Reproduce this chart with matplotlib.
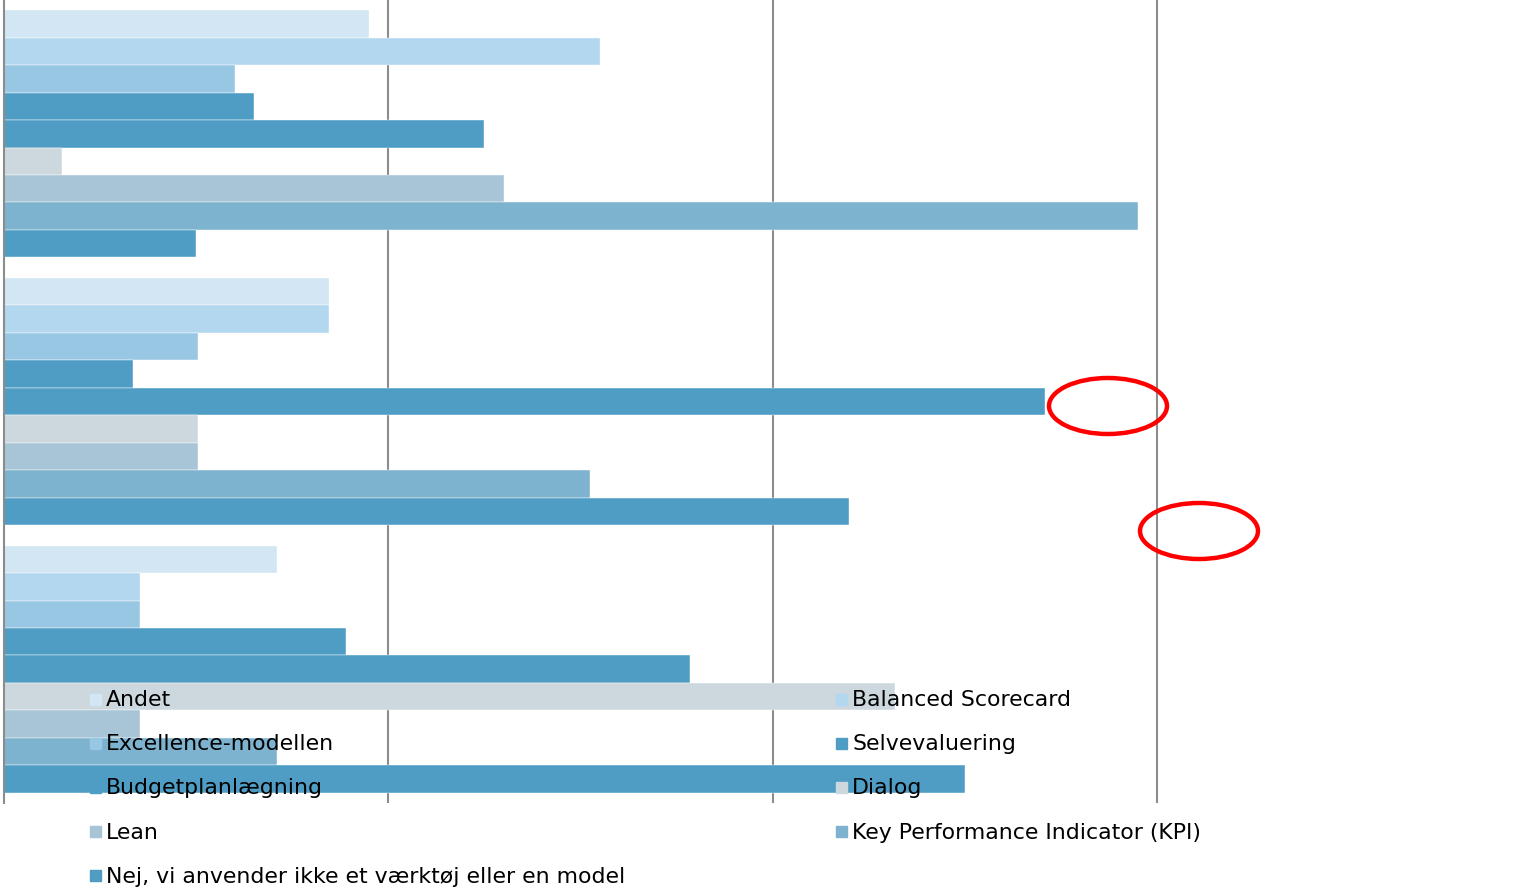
import matplotlib.pyplot as plt
from matplotlib.patches import Ellipse, Rectangle
import numpy as np

# ---------------------------
# DATA
# ---------------------------

groups = ["Gruppe 1", "Gruppe 2", "Gruppe 3"]

series = [
    "Andet",
    "Balanced Scorecard",
    "Excellence-modellen",
    "Selvevaluering",
    "Budgetplanlægning",
    "Dialog",
    "Lean",
    "Key Performance Indicator (KPI)",
    "Nej, vi anvender ikke et værktøj eller en model",
]

values = [
    [9.5, 8.45, 7.1],    # Andet
    [15.5, 8.45, 3.55],  # Balanced Scorecard
    [6.0, 5.05, 3.55],   # Excellence-modellen
    [6.5, 3.35, 8.9],    # Selvevaluering
    [12.5, 27.1, 17.85], # Budgetplanlægning
    [1.5, 5.05, 23.2],   # Dialog
    [13.0, 5.05, 3.55],  # Lean
    [29.5, 15.25, 7.1],  # KPI
    [5.0, 22.0, 25.0],   # Nej
]

colors = ["#d2e7f3", "#b2d7ee", "#98c7e4", "#4f9dc4", "#4f9dc4",
          "#cdd8de", "#a7c5d6", "#7db3cf", "#4f9dc4"]

# ---------------------------
# FIGURE
# ---------------------------

W, H = 1539, 890
fig = plt.figure(figsize=(W / 100, H / 100), dpi=100)
ax = fig.add_axes([4 / W, 87 / H, 1537 / W, 803 / H])

y = np.arange(len(groups))
h = 0.1025
for i, (name, vals) in enumerate(zip(series, values)):
    ax.barh(y + (i - 4) * h, vals, height=h, color=colors[i],
            edgecolor="white", linewidth=0.3, zorder=2)

ax.set_xlim(0, 40)
ax.set_ylim(2.5, -0.5)
ax.set_xticks([10, 20, 30])
ax.set_yticks([])
ax.tick_params(axis="x", length=0, labelbottom=False)
ax.grid(axis="x", color="#8c8c8c", linewidth=1.5, zorder=1)

for s in ["top", "right", "bottom"]:
    ax.spines[s].set_visible(False)
ax.spines["left"].set_color("#8c8c8c")
ax.spines["left"].set_linewidth(1.5)
ax.spines["left"].set_zorder(5)

# legend, two columns row by row (drawn over the bars)
for i, (name, c) in enumerate(zip(series, colors)):
    row, col = i // 2, i % 2
    x0 = 90 if col == 0 else 836
    yc = 699 + row * 44.2
    fig.patches.append(Rectangle((x0 / W, 1 - (yc + 5.5) / H), 11 / W, 11 / H,
                                 transform=fig.transFigure, color=c, zorder=10))
    fig.text((x0 + 16) / W, 1 - (yc + 1) / H, name, fontsize=15.8,
             va="center", ha="left", color="black", zorder=10)

# red circles
for cx, cy in [(1108, 406), (1199, 531)]:
    fig.patches.append(Ellipse((cx / W, 1 - cy / H), 118 / W, 56 / H,
                               transform=fig.transFigure, fill=False,
                               edgecolor="red", linewidth=3.2, zorder=11))

fig.savefig("out.png", dpi=100)
